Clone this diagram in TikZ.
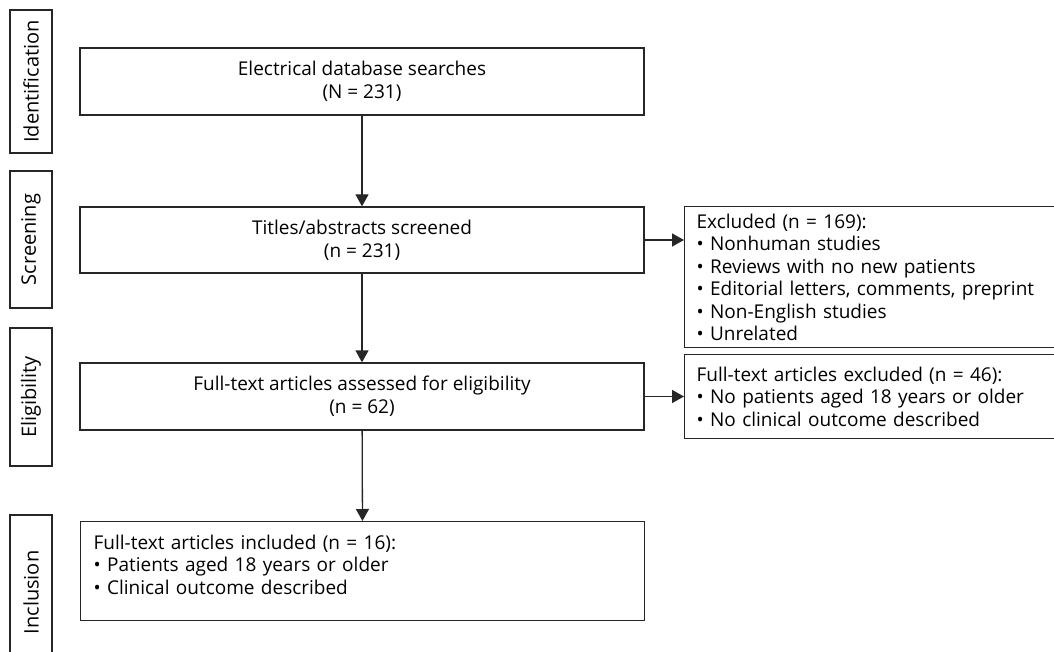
\documentclass[tikz,border=0pt]{standalone}
\usepackage{fontspec}
\setmainfont{Open Sans}
\usetikzlibrary{arrows.meta}

\begin{document}
\begin{tikzpicture}[x=1pt,y=1pt,yscale=-1,xscale=1,
  stage/.style={draw=black!85,line width=1.3pt,rotate=90,minimum height=42pt,inner sep=0pt,font=\fontsize{20}{23}\selectfont},
  mainbox/.style={draw=black!85,line width=1.3pt,minimum width=564pt,align=center,inner sep=0pt,font=\fontsize{19}{23}\selectfont},
  listbox/.style={draw=black!85,line width=1.3pt,anchor=north west,align=left,inner xsep=12pt,inner ysep=0pt,font=\fontsize{19}{22.5}\selectfont},
  flow/.style={draw=black!85,line width=1.3pt,-{Triangle[length=12pt,width=13pt]}}]
\useasboundingbox (0,0) rectangle (1054,652);

% Stage labels
\node[stage,minimum width=143pt] (ident) at (31,81.5) {Identification};
\node[stage,minimum width=137pt] (screen) at (31,239.5) {Screening};
\node[stage,minimum width=138pt] (elig) at (31,397) {Eligibility};
\node[stage,minimum width=155pt] (incl) at (31,592.5) {Inclusion};

% Main boxes
\node[mainbox,minimum height=67pt] (search) at (362,81.5) {Electrical database searches\\(N = 231)};
\node[mainbox,minimum height=66pt] (titles) at (362,240) {Titles/abstracts screened\\(n = 231)};
\node[mainbox,minimum height=67pt] (fulltext) at (362,396.5) {Full-text articles assessed for eligibility\\(n = 62)};
\node[listbox,text width=538pt,inner xsep=13pt,minimum height=99pt] (included) at (80,521) {Full-text articles included (n = 16):\\
  • Patients aged 18 years or older\\
  • Clinical outcome described\\[-9pt]\mbox{}};

% Exclusion boxes
\node[listbox,text width=366pt,minimum height=141pt] (excl) at (684,206) {Excluded (n = 169):\\
  • Nonhuman studies\\
  • Reviews with no new patients\\
  • Editorial letters, comments, preprint\\
  • Non-English studies\\
  • Unrelated};
\node[listbox,text width=366pt,minimum height=84pt] (exclft) at (684,354) {Full-text articles excluded (n = 46):\\
  • No patients aged 18 years or older\\
  • No clinical outcome described};

% Arrows
\draw[flow] (search) -- (titles);
\draw[flow] (titles) -- (fulltext);
\draw[flow] (fulltext) -- (included);
\draw[flow] (titles.east) -- (titles.east -| excl.west);
\draw[flow] (fulltext.east) -- (fulltext.east -| exclft.west);
\end{tikzpicture}
\end{document}
